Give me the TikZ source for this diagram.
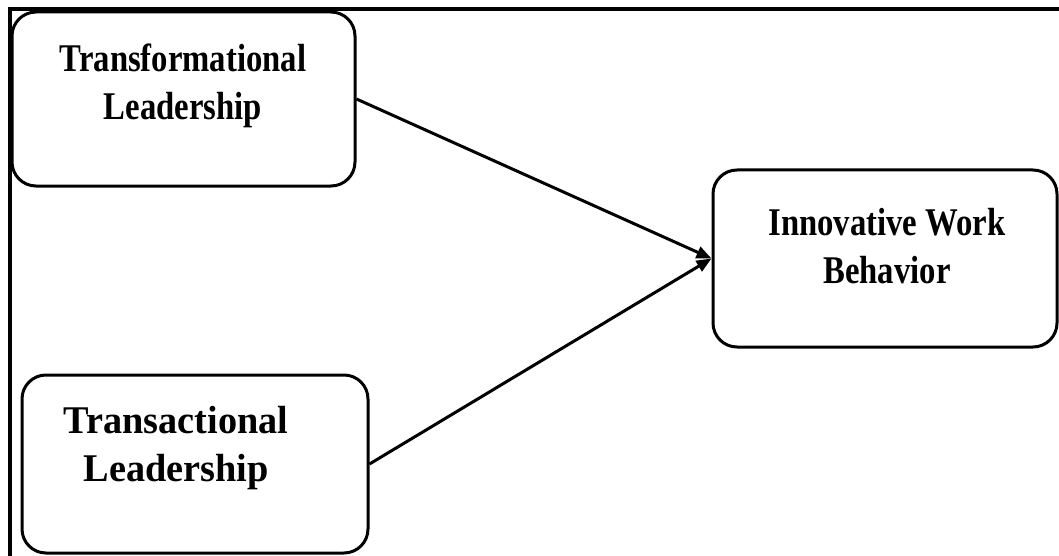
\documentclass[tikz,border=0pt]{standalone}
\usepackage{fontspec}
\setmainfont{Liberation Serif}
\usetikzlibrary{arrows.meta}

\tikzset{
  box/.style={draw, line width=3pt, rounded corners=24pt, inner sep=0pt},
  boxtext/.style={font=\bfseries\fontsize{32.7}{40}\selectfont, align=center, yscale=1.2, transform shape},
  link/.style={line width=3pt, -{Triangle[length=15pt,width=12pt]}}
}

\begin{document}
\begin{tikzpicture}[x=1pt,y=-1pt]
		\useasboundingbox (0,0) rectangle (1059,556);
		\draw[line width=4pt] (1059,9.5) -- (9.5,9.5) -- (9.5,556);
		% boxes
		\node[box, minimum width=343pt, minimum height=174pt] (trf) at (183.5,99) {};
		\node[box, minimum width=346pt, minimum height=178pt] (trs) at (195,464) {};
		\node[box, minimum width=344pt, minimum height=177pt] (iwb) at (885,258.5) {};
		% texts
		\node[boxtext] (trf-t) at (183,86) {Transformational\\Leadership};
		\node[boxtext, xscale=1.17] (trs-t) at (176,448) {Transactional\\Leadership};
		\node[boxtext] (iwb-t) at (887,246) {Innovative Work\\Behavior};
		% arrows
		\draw[link] (trf.east) -- (iwb.west);
		\draw[link] (trs.east) -- (iwb.west);
\end{tikzpicture}
\end{document}
